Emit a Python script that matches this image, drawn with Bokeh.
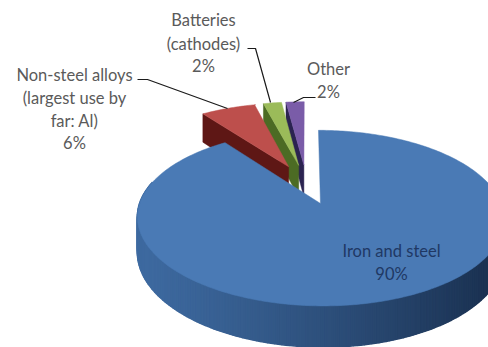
import math
import numpy as np
from bokeh.plotting import figure
from bokeh.models import Range1d
from bokeh.core.properties import value
from bokeh.embed import file_html
from bokeh.resources import INLINE

# Share of use by sector, drawn clockwise from twelve o'clock
categories = ["Iron and steel", "Non-steel alloys", "Batteries", "Other"]
shares = [90, 6, 2, 2]
top_colors = ["#4a7ab5", "#bd4f4c", "#9bbb59", "#7a5ca8"]
radial_wall_colors = ["#2c5280", "#5e1715", "#4c6b24", "#2b2350"]

# Projection of the tilted disc on to the page
CX, CY, RX, RY, PERSP = 306.0, 183.5, 174.0, 79.0, 0.16
EXPLODE, DEPTH = 0.25, 33.0
STEP = 1.0


def project(u, v, drop=0.0):
    s = 1.0 / (1.0 - PERSP * v)
    return CX + RX * u * s, CY + RY * v * s + drop * s


def blue_wall(x):
    # Side shading runs from mid blue on the left to deep navy on the right
    t = min(max((x - 139.0) / 349.0, 0.0), 1.0)
    a, b = np.array([62, 106, 160]), np.array([27, 50, 82])
    c = a + (b - a) * t ** 1.2
    return "#%02x%02x%02x" % tuple(int(i) for i in c)


p = figure(width=488, height=347, output_backend="svg", toolbar_location=None,
           x_range=Range1d(0, 488), y_range=Range1d(347, 0),
           min_border=0, outline_line_color=None)
p.xaxis.visible = False
p.yaxis.visible = False
p.grid.visible = False
p.background_fill_color = "white"
p.border_fill_color = "white"

total = sum(shares)
bounds = np.cumsum([0] + shares) / total * 360.0
slices = []
for i in range(len(shares)):
    a0, a1 = bounds[i], bounds[i + 1]
    mid = math.radians((a0 + a1) / 2)
    slices.append((i, a0, a1, EXPLODE * math.sin(mid), -EXPLODE * math.cos(mid)))


def draw_slice(i, a0, a1, ou, ov):
    angles = np.radians(np.arange(a0, a1 + STEP / 2, min(STEP, a1 - a0)))
    if abs(angles[-1] - math.radians(a1)) > 1e-6:
        angles = np.append(angles, math.radians(a1))
    us = ou + np.sin(angles)
    vs = ov - np.cos(angles)

    # Outer rim, only where it faces the viewer, stroked wide to close seams
    for j in range(len(angles) - 1):
        if math.cos(angles[j]) > 0.25:
            continue
        x0, y0 = project(us[j], vs[j])
        x1, y1 = project(us[j + 1], vs[j + 1])
        x0b, y0b = project(us[j], vs[j], DEPTH)
        x1b, y1b = project(us[j + 1], vs[j + 1], DEPTH)
        col = blue_wall((x0 + x1) / 2)
        p.patch([x0, x1, x1b, x0b], [y0, y1, y1b, y0b],
                fill_color=col, line_color=col, line_width=1.6)

    # Cut face on the leading edge of the narrow slices
    ax, ay = project(ou, ov)
    axb, ayb = project(ou, ov, DEPTH)
    if i > 0:
        x0, y0 = project(us[0], vs[0])
        x0b, y0b = project(us[0], vs[0], DEPTH)
        c = radial_wall_colors[i]
        p.patch([ax, x0, x0b, axb], [ay, y0, y0b, ayb],
                fill_color=c, line_color=c, line_width=0.5)

    # Top face
    xs, ys = [ax], [ay]
    for u, v in zip(us, vs):
        x, y = project(u, v)
        xs.append(x)
        ys.append(y)
    p.patch(xs, ys, fill_color=top_colors[i], line_color=top_colors[i], line_width=0.5)


# Farthest slices first so nearer ones overlap them
for idx in [3, 2, 1, 0]:
    draw_slice(*slices[idx])

# Leader lines
leaders = [
    ([137, 147, 227], [79, 79, 108]),
    ([247, 255, 270], [48, 48, 102]),
    ([315, 303, 293], [97, 97, 102]),
]
for lx, ly in leaders:
    p.line(lx, ly, line_color="#1a1a1a", line_width=1.2)

# Slice labels
label_blocks = [
    (391, [250, 273], ["Iron and steel", f"{shares[0]}%"], "#1f3864"),
    (74, [74, 97, 120, 142], ["Non-steel alloys", "(largest use by", "far: Al)", f"{shares[1]}%"], "#5a5a5a"),
    (203, [19, 43, 65], ["Batteries", "(cathodes)", f"{shares[2]}%"], "#5a5a5a"),
    (328, [68, 91], ["Other", f"{shares[3]}%"], "#5a5a5a"),
]
for x, ys, lines, color in label_blocks:
    p.text([x] * len(lines), ys, text=lines, text_font=value("Lato"),
           text_font_size="16.5px", text_color=color,
           text_align="center", text_baseline="middle")

open("out.html", "w").write(file_html(p, INLINE))
